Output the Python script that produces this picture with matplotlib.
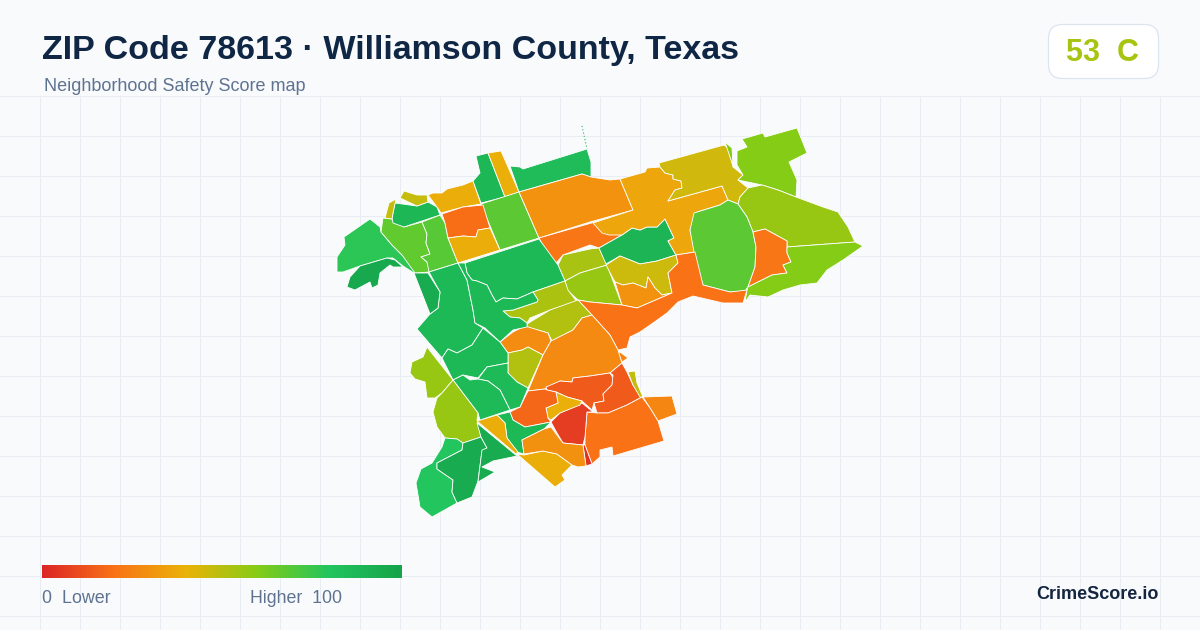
import matplotlib
matplotlib.use("Agg")
import matplotlib.pyplot as plt
import numpy as np
from matplotlib.collections import PolyCollection
from matplotlib.colors import LinearSegmentedColormap, Normalize
from matplotlib.patches import FancyBboxPatch

title = "ZIP Code 78613 · Williamson County, Texas"
subtitle = "Neighborhood Safety Score map"
badge_score = 53
badge_grade = "C"
legend_low = "0  Lower"
legend_high = "Higher  100"
brand = "CrimeScore.io"

stop_values = [0, 20, 40, 60, 80, 100]
stop_colors = ["#dc2626", "#f97316", "#eab308", "#84cc16", "#22c55e", "#16a34a"]

# Tract outlines, with the score read from each fill
tract_scores = [
    78, 97, 67, 69, 88, 47, 47, 38, 88, 39, 85, 68, 19, 38, 30, 21, 53, 56,
    90, 46, 30, 36, 45, 60, 60, 56, 68, 21, 60, 20, 25, 87, 87, 52, 51, 28,
    51, 27, 14, 14, 48, 26, 20, 6, 3, 39, 17, 87, 38, 38, 29, 95, 87, 87,
    86, 86, 56, 56, 80, 95, 95,
]
tract_outlines = [
    [(370,219),(380,227),(381,232),(392,245),(402,255),(413,263),(427,273),(414,273),(403,266),(393,258),(387,258),(360,266),(343,272),(337,272),(337,257),(345,245),(344,237)],
    [(360,266),(387,258),(395,260),(403,267),(393,267),(390,265),(380,273),(378,285),(372,288),(370,282),(355,290),(347,287),(350,277)],
    [(381,232),(383,218),(392,219),(404,227),(422,222),(427,234),(426,243),(430,254),(421,257),(427,262),(430,272),(415,273),(402,255),(392,245)],
    [(422,222),(440,215),(445,223),(448,238),(458,263),(429,272),(427,262),(421,257),(430,254),(426,243),(427,234)],
    [(392,218),(395,203),(417,206),(428,202),(437,207),(440,215),(404,227),(393,223)],
    [(385,218),(389,203),(396,199),(393,213),(392,219)],
    [(400,198),(404,191),(417,195),(427,195),(428,202),(417,206)],
    [(428,195),(433,193),(442,193),(447,189),(455,187),(463,185),(473,181),(481,204),(463,207),(441,213),(437,207)],
    [(476,156),(488,153),(505,197),(481,203),(473,181),(480,173)],
    [(488,153),(501,151),(519,192),(505,197)],
    [(510,166),(520,167),(523,169),(587,149),(591,162),(591,177),(582,174),(519,192)],
    [(481,204),(519,192),(539,238),(500,250)],
    [(442,214),(463,207),(483,205),(490,228),(478,230),(476,237),(463,236),(448,238),(445,223)],
    [(448,238),(463,236),(476,237),(478,230),(490,228),(500,250),(458,263)],
    [(519,192),(582,174),(591,177),(610,180),(620,179),(633,210),(590,222),(539,238)],
    [(539,238),(595,222),(600,227),(609,233),(621,235),(622,235),(599,248),(590,245),(563,255),(557,262),(553,264)],
    [(558,265),(563,255),(590,249),(599,248),(607,265),(580,273),(565,281)],
    [(565,281),(580,273),(607,265),(622,305),(590,302),(578,300),(567,290)],
    [(599,248),(622,235),(632,228),(640,230),(647,227),(657,227),(665,219),(674,238),(668,241),(676,255),(657,261),(640,264),(620,256),(606,264)],
    [(606,265),(620,256),(640,264),(657,261),(676,255),(678,263),(668,273),(672,293),(662,295),(655,288),(648,277),(646,288),(633,283),(623,285),(615,282)],
    [(615,282),(623,285),(633,283),(646,288),(648,277),(655,288),(662,295),(672,293),(637,308),(622,305)],
    [(620,179),(645,172),(647,168),(660,167),(665,173),(673,175),(673,179),(681,181),(682,188),(675,190),(668,201),(722,186),(728,200),(720,205),(697,212),(690,230),(695,252),(676,255),(668,241),(674,238),(665,219),(657,227),(647,227),(640,230),(632,228),(622,235),(609,235),(602,233),(593,223),(633,210)],
    [(659,163),(724,145),(728,148),(733,167),(743,175),(738,180),(748,188),(740,197),(738,204),(728,200),(722,186),(668,201),(675,190),(682,188),(681,181),(673,179),(673,175),(665,173),(660,167)],
    [(725,142),(732,148),(733,165),(730,157)],
    [(742,139),(763,133),(765,137),(797,128),(807,153),(789,162),(797,180),(796,197),(778,190),(762,185),(738,180),(743,175),(737,165),(737,151),(747,147)],
    [(738,204),(740,197),(748,188),(762,185),(778,190),(796,197),(823,207),(838,212),(848,227),(855,242),(787,247),(787,241),(765,229),(753,232),(747,217)],
    [(728,200),(738,204),(747,217),(753,232),(756,247),(755,267),(748,287),(745,291),(730,292),(703,285),(696,263),(690,230),(694,213),(720,205)],
    [(753,232),(765,229),(787,241),(787,247),(787,253),(791,262),(783,265),(787,273),(772,275),(748,287),(755,267),(756,247)],
    [(787,247),(855,242),(863,246),(843,260),(827,270),(817,283),(800,285),(783,290),(768,297),(750,295),(745,302),(747,290),(748,287),(772,275),(787,273),(783,265),(791,262),(787,253)],
    [(747,290),(743,303),(723,303),(693,296),(678,302),(667,313),(653,323),(640,332),(630,337),(627,348),(618,350),(610,335),(578,300),(590,302),(622,305),(637,308),(672,293),(668,273),(678,263),(676,255),(695,252),(703,285),(730,292)],
    [(620,352),(628,358),(622,362),(618,353)],
    [(465,263),(539,239),(558,265),(565,281),(533,292),(517,299),(503,298),(496,302),(492,295),(487,285),(477,281),(472,280),(467,273)],
    [(429,272),(458,263),(467,280),(473,310),(475,323),(483,328),(472,345),(457,353),(448,349),(442,358),(417,329),(430,314),(438,308),(440,292)],
    [(533,292),(565,281),(568,290),(577,302),(550,310),(530,318),(527,323),(520,318),(510,317),(503,311),(513,310),(537,302),(538,300)],
    [(527,324),(550,310),(578,300),(592,315),(582,318),(573,330),(552,341),(548,333),(527,327)],
    [(500,342),(513,332),(525,326),(548,333),(551,341),(543,355),(528,347),(522,350),(508,353)],
    [(508,353),(522,350),(528,347),(543,355),(528,388),(517,382),(508,373)],
    [(551,341),(573,330),(582,318),(592,315),(610,335),(618,350),(622,363),(610,373),(590,376),(573,378),(572,382),(560,381),(545,389),(528,391),(543,355)],
    [(546,387),(560,381),(572,382),(573,378),(590,376),(610,373),(613,378),(612,385),(603,394),(604,401),(594,403),(592,410),(582,401),(567,397),(556,392),(547,390)],
    [(610,373),(622,363),(627,372),(633,385),(642,397),(627,405),(608,413),(597,413),(594,403),(604,401),(603,394),(612,385),(613,375)],
    [(628,372),(635,371),(637,383),(643,397),(640,397),(633,385)],
    [(643,397),(672,396),(677,414),(658,421),(650,408)],
    [(587,412),(597,413),(608,413),(627,405),(642,397),(650,408),(658,421),(664,441),(613,456),(612,447),(600,450),(600,457),(592,464),(585,445),(585,437)],
    [(551,422),(560,413),(582,403),(593,412),(587,412),(585,437),(583,445),(563,443),(557,433)],
    [(583,445),(585,445),(592,464),(586,466)],
    [(556,392),(567,397),(582,401),(580,405),(560,413),(551,420),(548,418),(546,408),(558,403)],
    [(528,391),(545,389),(547,390),(556,392),(558,403),(546,408),(548,418),(551,422),(525,427),(513,420),(510,412),(520,407)],
    [(510,412),(513,420),(525,427),(551,422),(544,429),(522,440),(524,454),(517,452),(507,438),(505,423),(497,415)],
    [(477,421),(497,415),(505,423),(507,438),(518,452),(516,454)],
    [(517,454),(524,455),(543,451),(557,454),(572,465),(562,475),(565,480),(555,487)],
    [(522,440),(544,429),(551,427),(563,443),(583,445),(586,466),(578,467),(572,465),(557,454),(543,451),(524,454)],
    [(414,273),(428,273),(440,292),(438,308),(430,314)],
    [(458,263),(465,263),(467,273),(472,280),(477,281),(487,285),(492,295),(496,302),(503,298),(517,299),(533,292),(538,300),(537,302),(513,310),(503,311),(510,317),(520,318),(527,323),(527,327),(513,330),(500,342),(485,328),(475,323),(473,310),(467,280)],
    [(442,358),(448,349),(457,353),(472,345),(483,328),(500,342),(508,353),(508,363),(487,367),(478,378),(463,375),(453,380)],
    [(478,379),(487,367),(508,363),(508,373),(517,382),(528,388),(523,400),(520,407),(510,410),(500,390),(488,381)],
    [(453,380),(463,375),(470,380),(478,379),(488,381),(500,390),(510,410),(480,420),(478,413)],
    [(427,347),(453,380),(442,393),(435,398),(427,398),(425,382),(415,379),(410,373),(412,362),(423,357)],
    [(453,380),(478,413),(477,420),(481,437),(463,443),(457,439),(445,438),(437,427),(433,412),(437,398),(442,393)],
    [(445,438),(457,439),(463,443),(462,450),(437,463),(437,469),(453,480),(452,492),(457,503),(432,517),(420,507),(416,483),(421,469),(432,463),(442,447)],
    [(462,450),(463,443),(481,437),(487,448),(482,451),(478,481),(472,497),(457,503),(452,492),(453,480),(437,469),(437,463)],
    [(477,423),(517,456),(493,461),(482,467),(495,472),(478,482),(482,450),(487,448),(481,437)],
]
sliver_x = [582, 587]
sliver_y = [126, 149]
sliver_score = 85

grid_x = list(range(40, 1200, 40))
grid_y = list(range(96, 630, 40))

plt.rcParams["font.family"] = ["Liberation Sans", "DejaVu Sans"]
cmap = LinearSegmentedColormap.from_list(
    "score", [(v / 100, c) for v, c in zip(stop_values, stop_colors)])
norm = Normalize(0, 100)

fig = plt.figure(figsize=(12, 6.3), dpi=100, facecolor="#f8fafc")
ax = fig.add_axes([0, 0, 1, 1])
ax.set_xlim(0, 1200)
ax.set_ylim(630, 0)
ax.axis("off")

for x in grid_x:
    ax.plot([x + 0.5, x + 0.5], [96, 630], color="#e8edf4", lw=0.72, zorder=1, snap=False)
for y in grid_y:
    ax.plot([0, 1200], [y + 0.5, y + 0.5], color="#e8edf4", lw=0.72, zorder=1, snap=False)

map_tracts = PolyCollection(tract_outlines, array=np.array(tract_scores, float), cmap=cmap,
                            norm=norm, edgecolors="#ffffff", linewidths=0.6, zorder=3)
ax.add_collection(map_tracts)
ax.plot(sliver_x, sliver_y, color=cmap(norm(sliver_score)), lw=0.8, ls=(0, (1, 2)), zorder=3)

ramp = np.linspace(0, 100, 360).reshape(1, -1)
ax.imshow(ramp, cmap=cmap, norm=norm, extent=(42, 402, 578, 565), aspect="auto", zorder=4)
ax.set_xlim(0, 1200)
ax.set_ylim(630, 0)

ink = "#0f2744"
muted = "#5f7391"
ax.text(42, 59, title, fontsize=24.5, fontweight="bold", color=ink, va="baseline", zorder=5)
ax.text(44, 91, subtitle, fontsize=13, color=muted, va="baseline", zorder=5)
ax.text(42, 603, legend_low, fontsize=12.9, color=muted, va="baseline", zorder=5)
ax.text(341.5, 603, legend_high, fontsize=12.8, color=muted, va="baseline", ha="right", zorder=5)
ax.text(1158.5, 599, brand, fontsize=13, fontweight="bold", color="#14253f", va="baseline", ha="right", zorder=5)

ax.add_patch(FancyBboxPatch((1048.5, 24.5), 110, 54, boxstyle="round,pad=0,rounding_size=14",
                            fc="#ffffff", ec="#dde5f0", lw=0.9, zorder=5))
ax.text(1103, 61, f"{badge_score}  {badge_grade}", fontsize=22, fontweight="bold",
        color="#a7c413", va="baseline", ha="center", zorder=6)

fig.savefig("out.png", dpi=100, facecolor=fig.get_facecolor())
